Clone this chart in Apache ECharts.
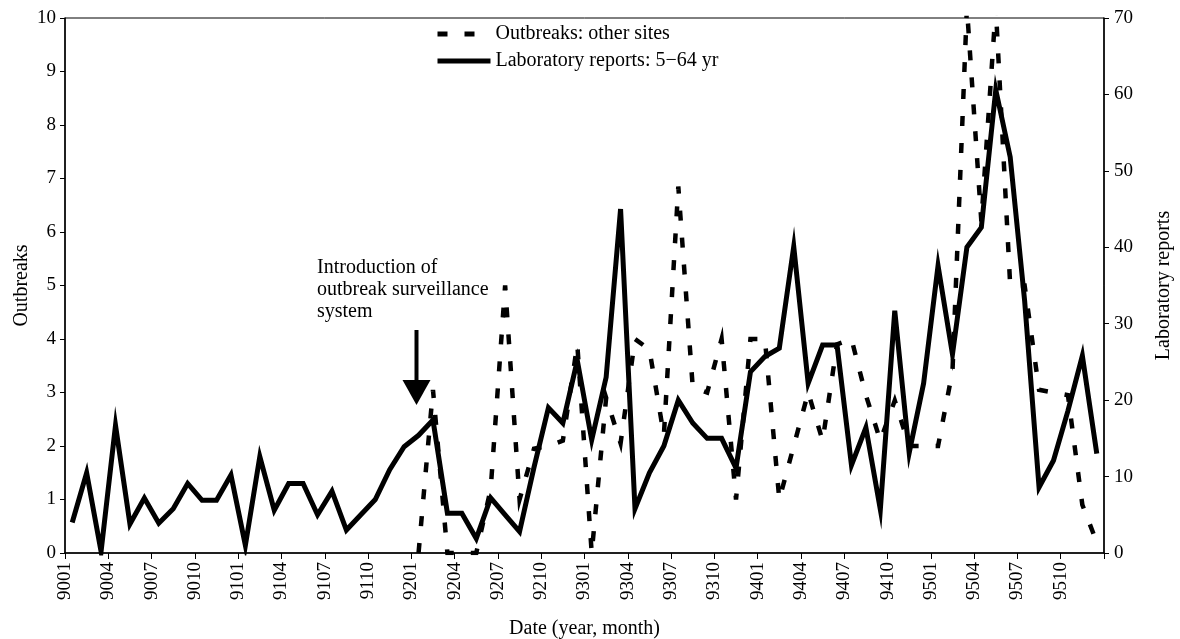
<!DOCTYPE html>
<html>
<head>
<meta charset="utf-8">
<script src="https://cdn.jsdelivr.net/npm/echarts@6/dist/echarts.min.js"></script>
<style>
  html, body { margin: 0; padding: 0; background: #fff; }
  #chart { width: 1180px; height: 639px; }
</style>
</head>
<body>
<div id="chart"></div>
<script>
// ---- data ----
const months = [
  '9001','9002','9003','9004','9005','9006','9007','9008','9009','9010','9011','9012',
  '9101','9102','9103','9104','9105','9106','9107','9108','9109','9110','9111','9112',
  '9201','9202','9203','9204','9205','9206','9207','9208','9209','9210','9211','9212',
  '9301','9302','9303','9304','9305','9306','9307','9308','9309','9310','9311','9312',
  '9401','9402','9403','9404','9405','9406','9407','9408','9409','9410','9411','9412',
  '9501','9502','9503','9504','9505','9506','9507','9508','9509','9510','9511','9512'
];
const tickLabels = [
  '9001','9004','9007','9010','9101','9104','9107','9110',
  '9201','9204','9207','9210','9301','9304','9307','9310',
  '9401','9404','9407','9410','9501','9504','9507','9510'
];
// Outbreaks: other sites (left axis) - surveillance starts 9201
const outbreaks = [
  null,null,null,null,null,null,null,null,null,null,null,null,
  null,null,null,null,null,null,null,null,null,null,null,null,
  0, 3.05, 0, 0, 0, 1.2, 5.0, 1.0, 1.95, 2.0, 2.1, 3.9,
  0, 2.9, 2.05, 4.0, 3.8, 2.2, 6.85, 3.1, 3.0, 4.0, 1.0, 4.0,
  4.0, 1.0, 2.0, 3.0, 2.1, 3.9, 4.0, 2.95, 2.1, 2.85, 2.0, 2.0,
  2.0, 3.4, 10.2, 6.2, 10.2, 5.0, 5.0, 3.05, 3.0, 2.95, 0.9, 0.2
];
// Laboratory reports: 5-64 yr (right axis)
const labReports = [
  4.0, 10.5, 0.2, 16.7, 3.8, 7.2, 3.9, 5.8, 9.1, 6.9, 6.9, 10.2,
  1.0, 12.6, 5.6, 9.1, 9.1, 5.0, 8.1, 3.0, 5.0, 7.0, 10.9, 13.9,
  15.4, 17.4, 5.2, 5.2, 1.9, 7.2, 5.0, 2.8, 11.2, 19.0, 17.0, 25.2,
  14.8, 23.0, 45.0, 5.8, 10.5, 14.0, 20.0, 17.0, 15.0, 15.0, 11.1, 23.7,
  25.7, 26.8, 40.1, 22.2, 27.2, 27.2, 11.5, 16.4, 5.7, 31.7, 13.1, 22.2,
  37.6, 26.0, 40.0, 42.6, 60.6, 51.8, 33.0, 8.6, 12.1, 18.6, 25.8, 13.0
];
const seriesNames = ['Outbreaks: other sites', 'Laboratory reports: 5\u221264 yr'];
const annotationText = 'Introduction of\noutbreak surveillance\nsystem';

// ---- chart ----
const FONT = '"Liberation Serif", "Times New Roman", serif';
const chart = echarts.init(document.getElementById('chart'), null, { renderer: 'canvas' });

const option = {
  animation: false,
  backgroundColor: '#fff',
  grid: {
    left: 65, right: 76, top: 18, bottom: 86,
    outerBoundsMode: 'none', containLabel: false,
    show: true, borderColor: '#000', borderWidth: 1, backgroundColor: 'transparent'
  },
  legend: {
    orient: 'vertical',
    left: 430, top: 19,
    itemWidth: 53, itemHeight: 14, itemGap: 7,
    itemStyle: { opacity: 0 },
    lineStyle: { width: 5 },
    textStyle: { fontFamily: FONT, fontSize: 20, color: '#000' },
    data: seriesNames
  },
  xAxis: [
    {
      type: 'category', data: months, boundaryGap: true,
      axisLine: { show: true, lineStyle: { color: '#000', width: 1.5 } },
      axisTick: { show: false }, axisLabel: { show: false }, splitLine: { show: false }
    },
    {
      type: 'value', min: 0, max: months.length, interval: 3, position: 'bottom',
      axisLine: { show: false },
      axisTick: { show: true, length: 6, lineStyle: { color: '#000', width: 1 } },
      axisLabel: {
        rotate: 90, margin: 9, color: '#000', fontFamily: FONT, fontSize: 19,
        showMinLabel: true, showMaxLabel: true,
        formatter: v => tickLabels[v / 3] || ''
      },
      splitLine: { show: false },
      name: 'Date (year, month)', nameLocation: 'middle', nameGap: 66, nameMoveOverlap: false,
      nameTextStyle: { fontFamily: FONT, fontSize: 20, color: '#000' }
    }
  ],
  yAxis: [
    {
      type: 'value', min: 0, max: 10, interval: 1, position: 'left',
      axisLine: { show: true, lineStyle: { color: '#000', width: 1.5 } },
      axisTick: { show: true, length: 5, lineStyle: { color: '#000' } },
      axisLabel: { margin: 9, color: '#000', fontFamily: FONT, fontSize: 19 },
      splitLine: { show: false },
      name: 'Outbreaks', nameLocation: 'middle', nameGap: 33, nameRotate: 90, nameMoveOverlap: false,
      nameTextStyle: { fontFamily: FONT, fontSize: 20, color: '#000' }
    },
    {
      type: 'value', min: 0, max: 70, interval: 10, position: 'right',
      axisLine: { show: true, lineStyle: { color: '#000', width: 1.5 } },
      axisTick: { show: true, length: 5, lineStyle: { color: '#000' } },
      axisLabel: { margin: 10, color: '#000', fontFamily: FONT, fontSize: 19 },
      splitLine: { show: false },
      name: 'Laboratory reports', nameLocation: 'middle', nameGap: 50, nameRotate: 90, nameMoveOverlap: false,
      nameTextStyle: { fontFamily: FONT, fontSize: 20, color: '#000' }
    }
  ],
  series: [
    {
      name: seriesNames[0], type: 'line', xAxisIndex: 0, yAxisIndex: 0,
      data: outbreaks, symbol: 'none', connectNulls: false, clip: true,
      lineStyle: { color: '#000', width: 4.5, type: [10, 17], cap: 'butt', join: 'miter' },
      itemStyle: { color: '#000' }
    },
    {
      name: seriesNames[1], type: 'line', xAxisIndex: 0, yAxisIndex: 1,
      data: labReports, symbol: 'none', clip: true,
      lineStyle: { color: '#000', width: 5, join: 'miter', miterLimit: 10 },
      itemStyle: { color: '#000' }
    }
  ],
  graphic: [
    {
      type: 'text', left: 317, top: 257, silent: true,
      style: { text: annotationText, font: '20px ' + FONT, fill: '#000', lineHeight: 22 }
    },
    {
      type: 'rect', silent: true,
      shape: { x: 414.5, y: 330, width: 4, height: 52 },
      style: { fill: '#000' }
    },
    {
      type: 'polygon', silent: true,
      shape: { points: [[402.5, 380], [430.5, 380], [416.5, 405]] },
      style: { fill: '#000' }
    }
  ]
};
chart.setOption(option);
</script>
</body>
</html>
